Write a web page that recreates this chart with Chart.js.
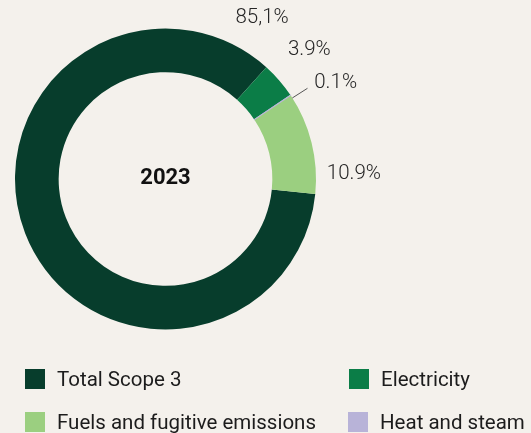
<!DOCTYPE html>
<html>
<head>
<meta charset="utf-8">
<script src="https://cdn.jsdelivr.net/npm/chart.js@4/dist/chart.umd.min.js"></script>
<style>
  body { margin: 0; background: #f4f1ec; }
  #wrap { position: relative; width: 531px; height: 433px; overflow: hidden; }
  #chart { position: absolute; left: 0; top: 0; }
  .legend-item { position: absolute; display: flex; align-items: center; font-family: Roboto, sans-serif; font-size: 20.5px; color: #1c1c1c; white-space: nowrap; }
  .legend-item span.box { display: inline-block; width: 20px; height: 20px; margin-right: 12px; }
</style>
</head>
<body>
<div id="wrap">
  <canvas id="chart" width="531" height="433"></canvas>
  <div id="legend"></div>
</div>
<script>
// data, in drawing order (clockwise)
const categories = ['Total Scope 3', 'Electricity', 'Heat and steam', 'Fuels and fugitive emissions'];
const shares = [85.1, 3.9, 0.1, 10.9];
const shareLabels = ['85,1%', '3.9%', '0.1%', '10.9%'];
const colors = ['#073d2c', '#0b7d47', '#b8b3d8', '#9bcf80'];
const legendOrder = [0, 1, 3, 2];
const centerText = '2023';

// where each percentage label sits: angle from top (deg), distance past outer edge
const labelPos = [[31, 37], [48, 43], [60.5, 45], [88.5, 38]];

const labelsPlugin = {
    id: 'labels',
    afterDatasetsDraw(chart) {
        const ctx = chart.ctx;
        const arcs = chart.getDatasetMeta(0).data;
        const cx = arcs[0].x;
        const cy = arcs[0].y;
        const r = arcs[0].outerRadius;

        ctx.save();
        ctx.fillStyle = '#111';
        ctx.font = 'bold 22px Roboto';
        ctx.textAlign = 'center';
        ctx.textBaseline = 'middle';
        ctx.fillText(centerText, cx, cy - 1);

        ctx.fillStyle = '#262626';
        ctx.font = '300 20.5px Roboto';
        shareLabels.forEach((txt, i) => {
            const a = labelPos[i][0] * Math.PI / 180 - Math.PI / 2;
            const d = r + labelPos[i][1];
            ctx.fillText(txt, cx + d * Math.cos(a), cy + d * Math.sin(a));
        });

        // leader line for the tiny slice
        const heat = arcs[2];
        const mid = (heat.startAngle + heat.endAngle) / 2 + 0.02;
        ctx.strokeStyle = '#555';
        ctx.lineWidth = 1;
        ctx.beginPath();
        ctx.moveTo(cx + r * Math.cos(mid), cy + r * Math.sin(mid));
        ctx.lineTo(cx + (r + 18) * Math.cos(mid), cy + (r + 18) * Math.sin(mid));
        ctx.stroke();
        ctx.restore();
    }
};

new Chart(document.getElementById('chart'), {
    type: 'doughnut',
    data: {
        labels: categories,
        datasets: [{
            data: shares,
            backgroundColor: colors,
            borderColor: ['transparent', 'transparent', '#b8b3d8', 'transparent'],
            borderWidth: [0, 0, 1, 0],
        }]
    },
    options: {
        responsive: false,
        animation: false,
        rotation: 95.7,
        cutout: '71%',
        layout: { padding: { left: 14.5, top: 28, right: 214.5, bottom: 103 } },
        plugins: {
            legend: { display: false },
            tooltip: { enabled: false },
        }
    },
    plugins: [labelsPlugin]
});

const legendEl = document.getElementById('legend');
const legendSpots = [[25, 367], [349, 367], [25, 410], [348, 410]];
legendOrder.forEach((idx, k) => {
    const item = document.createElement('div');
    item.className = 'legend-item';
    item.style.left = legendSpots[k][0] + 'px';
    item.style.top = legendSpots[k][1] + 'px';
    const box = document.createElement('span');
    box.className = 'box';
    box.style.background = colors[idx];
    item.appendChild(box);
    item.appendChild(document.createTextNode(categories[idx]));
    legendEl.appendChild(item);
});
</script>
</body>
</html>
